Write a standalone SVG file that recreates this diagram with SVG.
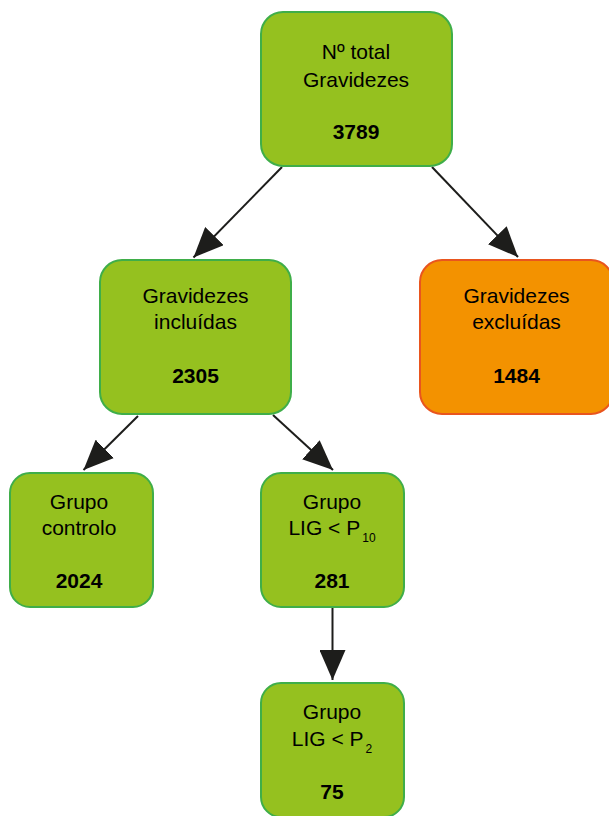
<svg xmlns="http://www.w3.org/2000/svg" width="609" height="816" viewBox="0 0 609 816">
<defs>
<style>
.g{fill:#95c11f;stroke:#3fae49;stroke-width:2}
.o{fill:#f39200;stroke:#e9551e;stroke-width:2}
text{font-family:"Liberation Sans",Arial,sans-serif;font-size:21px;fill:#000;text-anchor:middle}
.b{font-weight:bold}
.s{font-size:12px}
.c{stroke:#1d1d1b;stroke-width:2;fill:none;marker-end:url(#ah)}
</style>
<marker id="ah" viewBox="0 0 30 26" markerWidth="30" markerHeight="26" refX="30" refY="13" orient="auto" markerUnits="userSpaceOnUse">
<path d="M0,0 L30,13 L0,26 z" fill="#1d1d1b"/>
</marker>
</defs>
<g id="connectors">
<line class="c" x1="282" y1="167" x2="193.5" y2="257.5"/>
<line class="c" x1="432" y1="167" x2="518" y2="257"/>
<line class="c" x1="138" y1="416" x2="83.5" y2="470"/>
<line class="c" x1="273" y1="415" x2="333" y2="470"/>
<line class="c" x1="332.5" y1="608" x2="332.5" y2="680"/>
</g>
<g id="n-total">
<rect class="g" x="261" y="12" width="191" height="154" rx="22"/>
<text x="356" y="59">Nº total</text>
<text x="356" y="87">Gravidezes</text>
<text class="b" x="356" y="139">3789</text>
</g>
<g id="n-incluidas">
<rect class="g" x="100" y="260" width="191" height="154" rx="22"/>
<text x="195.5" y="303">Gravidezes</text>
<text x="195.5" y="329">incluídas</text>
<text class="b" x="195.5" y="383">2305</text>
</g>
<g id="n-excluidas">
<rect class="o" x="420" y="260" width="193" height="154" rx="22"/>
<text x="516.5" y="303">Gravidezes</text>
<text x="516.5" y="329">excluídas</text>
<text class="b" x="516.5" y="383">1484</text>
</g>
<g id="n-controlo">
<rect class="g" x="10" y="473" width="143" height="134" rx="20"/>
<text x="79" y="509">Grupo</text>
<text x="79" y="535">controlo</text>
<text class="b" x="79" y="588">2024</text>
</g>
<g id="n-p10">
<rect class="g" x="261" y="473" width="143" height="134" rx="20"/>
<text x="332" y="509">Grupo</text>
<text x="332" y="535">LIG &lt; P<tspan class="s" dx="2" dy="6.5">10</tspan></text>
<text class="b" x="332" y="588">281</text>
</g>
<g id="n-p2">
<rect class="g" x="261" y="683" width="143" height="134" rx="20"/>
<text x="332" y="719">Grupo</text>
<text x="332" y="745.5">LIG &lt; P<tspan class="s" dx="2" dy="7">2</tspan></text>
<text class="b" x="332" y="799">75</text>
</g>
</svg>
